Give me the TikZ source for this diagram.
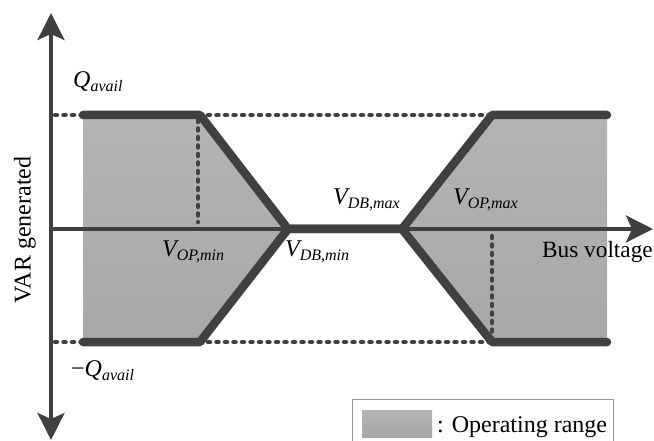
\documentclass[tikz,border=0pt]{standalone}
\usepackage{fontspec}
\setmainfont{Liberation Serif}
\usetikzlibrary{arrows.meta}

\definecolor{ink}{HTML}{404040}
\definecolor{rangetop}{HTML}{B4B4B4}
\definecolor{rangebot}{HTML}{A7A7A7}

% italic symbol with a lowered italic subscript
\newcommand{\symsub}[2]{{\itshape #1\raisebox{-4pt}{\fontsize{16}{16}\selectfont #2}}}

\tikzset{
  axis/.style={draw=ink, line width=4pt, -{Stealth[length=27pt,width=27pt,inset=6pt]}},
  guide/.style={draw=ink, line width=4.5pt, line cap=round, dash pattern=on 2pt off 6.5pt},
  limit/.style={draw=ink, line width=8.5pt, line cap=round, line join=round},
  region/.style={top color=rangetop, bottom color=rangebot, draw=none},
  lbl/.style={inner sep=0pt, anchor=base west, font=\fontsize{24}{28}\selectfont},
}

\begin{document}
\begin{tikzpicture}[x=1pt, y=-1pt]
  \useasboundingbox (0,0) rectangle (654,441);
  \clip (0,0) rectangle (654,441);

  % key points of the characteristic
  \coordinate (O)    at (51,229);
  \coordinate (Ytop) at (51,13);
  \coordinate (Ybot) at (51,440);
  \coordinate (Xend) at (653,229);
  \coordinate (UL)   at (83,115);
  \coordinate (UA)   at (200,115);
  \coordinate (DBmin) at (288,229);
  \coordinate (DBmax) at (402,229);
  \coordinate (UB)   at (492,115);
  \coordinate (UR)   at (607,115);
  \coordinate (LL)   at (83,342);
  \coordinate (LA)   at (200,342);
  \coordinate (LB)   at (492,342);
  \coordinate (LR)   at (607,342);

  % operating ranges
  \shade[region] (UL) -- (UA) -- (DBmin) -- (LA) -- (LL) -- cycle;
  \shade[region] (DBmax) -- (UB) -- (UR) -- (LR) -- (LB) -- cycle;

  % Q limits and operating-voltage guides
  \draw[guide] (55,115) -- (UR);
  \draw[guide] (55,342) -- (LR);
  \draw[guide] (198,120) -- (198,222);
  \draw[guide] (492,236) -- (492,342);

  % axes
  \draw[axis] (O) -- (Xend);
  \draw[axis, {Stealth[length=27pt,width=27pt,inset=6pt]}-{Stealth[length=27pt,width=27pt,inset=6pt]}] (Ybot) -- (Ytop);

  % VAR limit characteristic
  \draw[limit] (UL) -- (UA) -- (DBmin) -- (DBmax) -- (UB) -- (UR);
  \draw[limit] (LL) -- (LA) -- (DBmin) -- (DBmax) -- (LB) -- (LR);

  % labels
  \node[lbl] (qmax) at (73,88)   {\symsub{Q}{avail}};
  \node[lbl] (qmin) at (71,376)  {−\symsub{Q}{avail}};
  \node[lbl] (vopmin) at (162,257) {\symsub{V}{OP,min}};
  \node[lbl] (vdbmin) at (285,257) {\symsub{V}{DB,min}};
  \node[lbl] (vdbmax) at (333,205) {\symsub{V}{DB,max}};
  \node[lbl] (vopmax) at (453,205) {\symsub{V}{OP,max}};
  \node[lbl, anchor=base east, font=\fontsize{23.3}{28}\selectfont] (xlab) at (653,258) {Bus voltage};
  \node[inner sep=0pt, rotate=90, font=\fontsize{24}{28}\selectfont] (ylab) at (25,230) {VAR generated};

  % legend
  \draw[draw=gray!80, line width=1pt] (352,399) rectangle (613,470);
  \shade[region] (362,410) rectangle (432,437);
  \node[lbl] (legtext) at (437,432) {: Operating range};
\end{tikzpicture}
\end{document}
